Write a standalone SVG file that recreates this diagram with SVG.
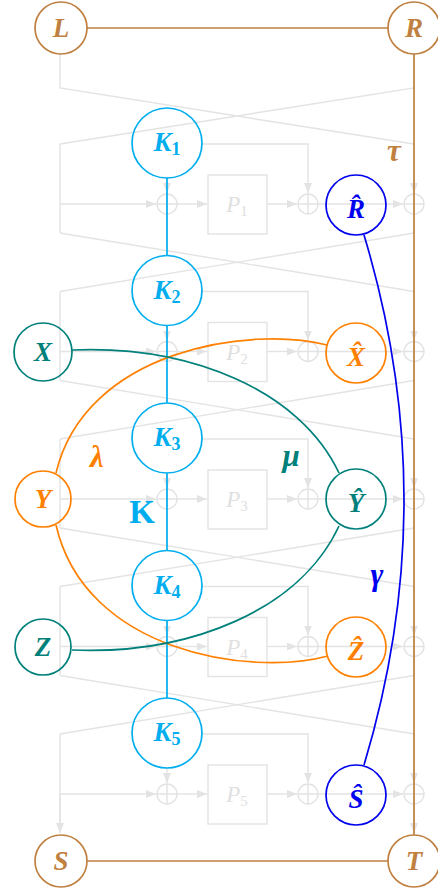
<svg xmlns="http://www.w3.org/2000/svg" xmlns:xlink="http://www.w3.org/1999/xlink" width="438" height="893" viewBox="0 0 438 893">
<style>
.g{fill:none;stroke:#e3e3e3;stroke-width:1.4}
.ga{fill:none;stroke:#e3e3e3;stroke-width:1.4;marker-end:url(#ah)}
.pl{font-family:"Liberation Serif",serif;font-style:italic;font-size:23px;fill:#e0e0e0;text-anchor:middle}
.pl tspan{font-style:normal;font-size:15px}
.n{fill:none;stroke-width:1.7}
.t{font-family:"Liberation Serif","DejaVu Serif",serif;font-weight:bold;font-style:italic;font-size:27px;text-anchor:middle}
.t tspan{font-style:normal;font-size:18px}
.gk{font-family:"Liberation Serif","DejaVu Serif",serif;font-weight:bold;font-style:italic;font-size:31px;text-anchor:middle}
.brown{stroke:#bf8040}.tb{fill:#bf8040}
.cyan{stroke:#00aeef}.tc{fill:#00aeef}
.blue{stroke:#0000ee}.tbl{fill:#0000ee}
.orange{stroke:#ff8000}.to{fill:#ff8000}
.teal{stroke:#00807a}.tt{fill:#00807a}
.e{fill:none;stroke-width:1.7}
</style>
<defs>
<marker id="ah" markerUnits="userSpaceOnUse" markerWidth="11" markerHeight="9" refX="10" refY="4" orient="auto">
<path d="M0,0 L10,4 L0,8 z" fill="#e3e3e3"/>
</marker>
<g id="round">
<path class="g" d="M60,144 V233"/>
<path class="ga" d="M60,204 H156"/>
<path class="ga" d="M177,204 H207"/>
<path class="ga" d="M267,204 H297"/>
<path class="ga" d="M318,204 H403"/>
<path class="ga" d="M167,178 V193"/>
<path class="ga" d="M202,144 H308 V193"/>
<path class="ga" d="M414,144 V193"/>
<path class="g" d="M414,214 V233"/>
<rect class="g" x="208" y="175" width="59" height="59"/>
<path class="g" d="M157,204 a10,10 0 1,0 20,0 a10,10 0 1,0 -20,0 M167,194 V214 M157,204 H177"/>
<path class="g" d="M298,204 a10,10 0 1,0 20,0 a10,10 0 1,0 -20,0 M308,194 V214 M298,204 H318"/>
<path class="g" d="M404,204 a10,10 0 1,0 20,0 a10,10 0 1,0 -20,0 M414,194 V214 M404,204 H424"/>
</g>
<path id="cross" class="g" d="M60,233 L414,291.5 M414,233 L60,291.5"/>
</defs>
<g id="feistel">
<path class="g" d="M60,54 V88 L414,144 M414,54 V88 L60,144"/>
<use xlink:href="#round"/>
<use xlink:href="#round" y="147.5"/>
<use xlink:href="#round" y="295"/>
<use xlink:href="#round" y="442.5"/>
<use xlink:href="#round" y="590"/>
<use xlink:href="#cross"/>
<use xlink:href="#cross" y="147.5"/>
<use xlink:href="#cross" y="295"/>
<use xlink:href="#cross" y="442.5"/>
<path class="ga" d="M60,794 V833"/>
<path class="ga" d="M414,804 V833"/>
<text class="pl" x="237" y="212">P<tspan dy="4">1</tspan></text>
<text class="pl" x="237" y="359.5">P<tspan dy="4">2</tspan></text>
<text class="pl" x="237" y="507">P<tspan dy="4">3</tspan></text>
<text class="pl" x="237" y="654.5">P<tspan dy="4">4</tspan></text>
<text class="pl" x="237" y="802">P<tspan dy="4">5</tspan></text>
</g>
<g id="edges">
<path class="e brown" d="M87,28 H388 M87,861 H388 M414,54 V835"/>
<path class="e cyan" d="M167,178 V256 M167,326 V403 M167,473 V550 M167,621 V698"/>
<path class="e blue" d="M364,235 Q444,500 364,765"/>
<path class="e orange" d="M327,345 C250,325 85,350 56,473 M56,525 C85,652 250,677 328,656"/>
<path class="e teal" d="M72,350 C190,345 300,390 339,473 M72,650 C190,655 300,610 339,526"/>
<text class="gk tb" x="394" y="161">τ</text>
<text class="gk to" x="97" y="467">λ</text>
<text class="gk tt" x="291" y="466">μ</text>
<text class="gk tbl" x="377" y="585">γ</text>
<text x="142" y="523" style="font-family:'Liberation Serif',serif;font-weight:bold;font-size:33px;fill:#00aeef;text-anchor:middle">K</text>
</g>
<g id="L"><circle class="n brown" cx="61" cy="28" r="26"/><text class="t tb" x="61" y="37">L</text></g>
<g id="R"><circle class="n brown" cx="414" cy="28" r="26"/><text class="t tb" x="414" y="37">R</text></g>
<g id="S"><circle class="n brown" cx="61" cy="861" r="26"/><text class="t tb" x="61" y="870">S</text></g>
<g id="T"><circle class="n brown" cx="414" cy="861" r="26"/><text class="t tb" x="414" y="870">T</text></g>
<g id="K1"><circle class="n cyan" cx="167" cy="143" r="35"/><text class="t tc" x="167" y="151">K<tspan dy="4">1</tspan></text></g>
<g id="K2"><circle class="n cyan" cx="167" cy="290.5" r="35"/><text class="t tc" x="167" y="298.5">K<tspan dy="4">2</tspan></text></g>
<g id="K3"><circle class="n cyan" cx="167" cy="438" r="35"/><text class="t tc" x="167" y="446">K<tspan dy="4">3</tspan></text></g>
<g id="K4"><circle class="n cyan" cx="167" cy="585.5" r="35"/><text class="t tc" x="167" y="593.5">K<tspan dy="4">4</tspan></text></g>
<g id="K5"><circle class="n cyan" cx="167" cy="733" r="35"/><text class="t tc" x="167" y="741">K<tspan dy="4">5</tspan></text></g>
<g id="X"><circle class="n teal" cx="43" cy="352" r="29"/><text class="t tt" x="43" y="361">X</text></g>
<g id="Y"><circle class="n orange" cx="43" cy="499" r="28"/><text class="t to" x="43" y="508">Y</text></g>
<g id="Z"><circle class="n teal" cx="43" cy="647" r="28"/><text class="t tt" x="43" y="656">Z</text></g>
<g id="Rhat"><circle class="n blue" cx="356" cy="205" r="30"/><text class="t tbl" x="356" y="218">R̂</text></g>
<g id="Xhat"><circle class="n orange" cx="356" cy="353" r="30"/><text class="t to" x="356" y="366">X̂</text></g>
<g id="Yhat"><circle class="n teal" cx="356" cy="499" r="30"/><text class="t tt" x="356" y="512">Ŷ</text></g>
<g id="Zhat"><circle class="n orange" cx="356" cy="647" r="30"/><text class="t to" x="356" y="660">Ẑ</text></g>
<g id="Shat"><circle class="n blue" cx="356" cy="795" r="30"/><text class="t tbl" x="356" y="808">Ŝ</text></g>
</svg>
